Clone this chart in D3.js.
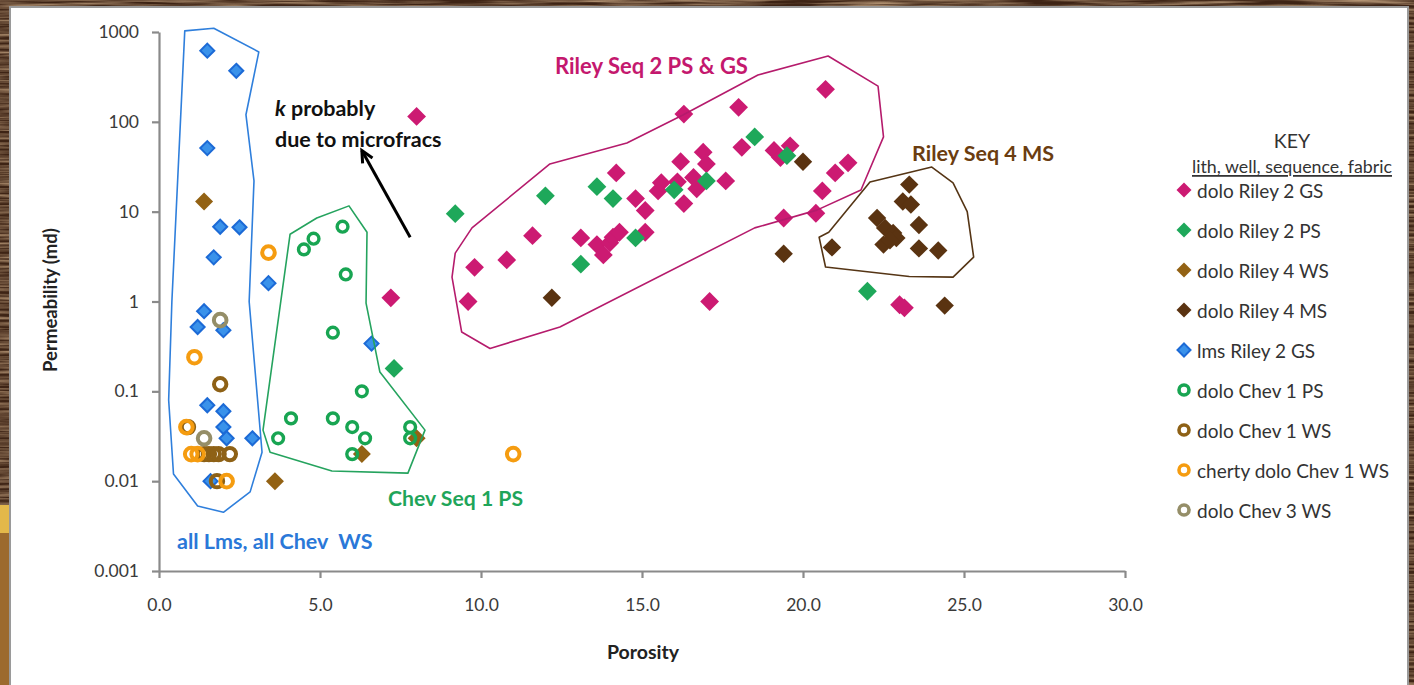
<!DOCTYPE html>
<html>
<head>
<meta charset="utf-8">
<script src="https://cdn.jsdelivr.net/npm/d3@7"></script>
<style>
  html, body { margin: 0; padding: 0; background: #4a2c1a; overflow: hidden; }
  svg { display: block; }
  text { font-family: Lato, "Open Sans", "Noto Sans", sans-serif; }
</style>
</head>
<body>
<svg id="chart" width="1414" height="685"></svg>
<script>
// ---------- samples: [porosity (%), permeability (md)] ----------
const doloRiley2GS = [
  [8.0, 115], [7.2, 1.1], [16.3, 122], [18.0, 145], [20.7, 230], [18.1, 52],
  [19.1, 48], [19.6, 54], [19.3, 40], [21.4, 35], [21.0, 27], [20.6, 17],
  [20.4, 9.6], [19.4, 8.5], [17.1, 1.0], [9.6, 1.0], [9.8, 2.4], [10.8, 2.9],
  [11.6, 5.4], [13.1, 5.1], [14.2, 27], [13.6, 4.3], [13.8, 3.3], [14.0, 4.5],
  [14.1, 5.2], [14.3, 5.9], [15.1, 5.9], [15.1, 10.3], [14.8, 14], [15.5, 17],
  [15.6, 21], [16.3, 12.3], [16.2, 36], [16.1, 21.5], [16.7, 18], [16.6, 24],
  [16.9, 46], [17.0, 34], [17.6, 22], [23.0, 0.92], [23.15, 0.85]
];
const doloRiley2PS = [
  [9.2, 9.5], [12.0, 15], [13.1, 2.6], [13.6, 19], [14.1, 14], [14.8, 5.1],
  [16.0, 17.5], [17.0, 22], [18.5, 68], [19.5, 42], [22.0, 1.3], [7.3, 0.18]
];
const doloRiley4WS = [
  [1.4, 13], [3.6, 0.01], [6.3, 0.02], [8.0, 0.03]
];
const doloRiley4MS = [
  [12.2, 1.1], [19.4, 3.4], [20.9, 4.0], [20.0, 36], [24.4, 0.9], [23.3, 20],
  [23.1, 13], [23.35, 12], [23.6, 7.1], [22.3, 8.5], [22.55, 6.6], [22.8, 5.8],
  [22.9, 5.1], [22.5, 4.3], [22.7, 4.8], [23.6, 3.9], [24.2, 3.7]
];
const lmsRiley2GS = [
  [1.5, 620], [2.4, 370], [1.5, 51], [1.9, 6.8], [2.5, 6.7], [1.7, 3.1],
  [3.4, 1.6], [1.4, 0.78], [1.2, 0.52], [2.0, 0.48], [6.6, 0.34], [1.5, 0.07],
  [2.0, 0.06], [2.0, 0.04], [2.1, 0.03], [2.9, 0.03], [1.6, 0.01]
];
const doloChev1PS = [
  [5.7, 6.8], [4.8, 5.0], [4.5, 3.8], [5.8, 2.0], [5.4, 0.45], [6.3, 0.1],
  [4.1, 0.05], [5.4, 0.05], [6.0, 0.04], [6.4, 0.03], [3.7, 0.03], [6.0, 0.02],
  [7.8, 0.04], [7.8, 0.03]
];
const doloChev1WS = [
  [1.9, 0.12], [0.9, 0.04], [1.4, 0.02], [1.55, 0.02], [1.7, 0.02], [1.85, 0.02],
  [2.2, 0.02], [1.8, 0.01]
];
const chertyDoloChev1WS = [
  [1.1, 0.24], [0.85, 0.04], [1.0, 0.02], [1.2, 0.02], [2.1, 0.01], [3.4, 3.5],
  [11.0, 0.02]
];
const doloChev3WS = [
  [1.9, 0.62], [1.4, 0.03]
];

const seriesNames = [
  "dolo Riley 2 GS", "dolo Riley 2 PS", "dolo Riley 4 WS", "dolo Riley 4 MS",
  "lms Riley 2 GS", "dolo Chev 1 PS", "dolo Chev 1 WS", "cherty dolo Chev 1 WS",
  "dolo Chev 3 WS"
];

// ---------- axis ticks ----------
const xTicks = [0, 5, 10, 15, 20, 25, 30];
const xTickLabels = ["0.0", "5.0", "10.0", "15.0", "20.0", "25.0", "30.0"];
const yTicks = [0.001, 0.01, 0.1, 1, 10, 100, 1000];
const yTickLabels = ["0.001", "0.01", "0.1", "1", "10", "100", "1000"];

// ---------- hand-drawn group outlines (porosity, permeability) ----------
const outlineLms = [
  [0.8, 1030], [1.7, 1100], [3.1, 600], [2.7, 120], [2.95, 22], [2.8, 1.0],
  [3.2, 0.021], [2.83, 0.0076], [2.0, 0.0045], [1.2, 0.0053], [0.45, 0.012],
  [0.3, 0.08], [0.4, 1.0]
];
const outlineChev1 = [
  [4.07, 5.6], [4.9, 8.5], [5.9, 11.6], [6.46, 5.9], [6.43, 0.96], [6.86, 0.164],
  [8.26, 0.037], [7.73, 0.0123], [5.37, 0.013], [3.45, 0.021], [3.23, 0.037]
];
const outlineRiley2 = [
  [20.78, 541], [22.33, 250], [22.5, 68], [21.8, 17.4], [20.43, 10.4], [18.5, 6.6],
  [12.45, 0.52], [10.28, 0.30], [9.4, 0.457], [9.1, 1.87], [9.2, 3.46], [9.72, 6.6],
  [12.14, 34], [14.53, 58], [16.27, 119], [18.6, 332]
];
const outlineRiley4 = [
  [22.08, 21.4], [24.0, 31.4], [24.66, 20.9], [25.1, 10], [25.3, 3.12], [24.66, 1.87],
  [23.3, 1.9], [20.7, 2.42], [20.5, 5.2], [20.8, 5.9]
];
const microfracArrow = [[7.8, 5.2], [6.3, 48]];

// ---------- drawing ----------
const W = 1414, H = 685;
const svg = d3.select("#chart");
const defs = svg.append("defs");

// wood-grain frame
const wood = defs.append("filter").attr("id", "grain")
  .attr("x", 0).attr("y", 0).attr("width", "100%").attr("height", "100%");
wood.append("feTurbulence").attr("type", "fractalNoise")
  .attr("baseFrequency", "0.012 0.35").attr("numOctaves", 3).attr("seed", 7);
wood.append("feColorMatrix").attr("type", "matrix")
  .attr("values", "0 0 0 0 0.62  0 0 0 0 0.42  0 0 0 0 0.25  1.6 0 0 0 -0.55");
svg.append("rect").attr("width", W).attr("height", H).attr("fill", "#3e2415");
svg.append("rect").attr("width", W).attr("height", H).attr("filter", "url(#grain)");
svg.append("rect").attr("x", 0).attr("y", 505).attr("width", 10).attr("height", 28).attr("fill", "#e3b84a");
svg.append("rect").attr("x", 0).attr("y", 533).attr("width", 10).attr("height", 152).attr("fill", "#9c6a2e");

// white slide panel
svg.append("rect").attr("x", 10).attr("y", 7).attr("width", 1398).attr("height", 690)
  .attr("fill", "#fff").attr("stroke", "#9a9a9a").attr("stroke-width", 2);

const x = d3.scaleLinear().domain([0, 30]).range([159, 1125]);
const y = d3.scaleLog().domain([0.001, 1000]).range([571, 32]);

// axes
const axisColor = "#8a8a8a";
const gx = svg.append("g").attr("transform", `translate(0,${y(0.001)})`)
  .call(d3.axisBottom(x).tickValues(xTicks).tickSize(7).tickSizeOuter(0).tickPadding(21)
    .tickFormat((d, i) => xTickLabels[i]));
const gy = svg.append("g").attr("transform", `translate(${x(0)},0)`)
  .call(d3.axisLeft(y).tickValues(yTicks).tickSize(7).tickSizeOuter(0).tickPadding(13)
    .tickFormat((d, i) => yTickLabels[i]));
[gx, gy].forEach(g => {
  g.select(".domain").attr("stroke", axisColor).attr("stroke-width", 2.2);
  g.selectAll(".tick line").attr("stroke", axisColor).attr("stroke-width", 2.2);
  g.selectAll(".tick text").attr("fill", "#3a3a3a").style("font-size", "17.5px")
    .style("font-family", "Lato, sans-serif");
});

svg.append("text").attr("x", 643).attr("y", 651).attr("text-anchor", "middle")
  .attr("dominant-baseline", "central").style("font-size", "19.5px").style("font-weight", 700)
  .attr("fill", "#222").text("Porosity");
svg.append("text").attr("transform", "translate(50,300) rotate(-90)").attr("text-anchor", "middle")
  .attr("dominant-baseline", "central").style("font-size", "18.5px").style("font-weight", 700)
  .attr("fill", "#222").text("Permeability (md)");

// marker styles per series
const diamond = r => `M0,${-r}L${r},0L0,${r}L${-r},0Z`;
const styles = [
  { kind: "diamond", r: 9.4, fill: "#cc1a72" },
  { kind: "diamond", r: 9.4, fill: "#1ea85a" },
  { kind: "diamond", r: 9, fill: "#936214" },
  { kind: "diamond", r: 9.2, fill: "#5a3311" },
  { kind: "diamond", r: 7, fill: "#3a92ea", stroke: "#1c6ad6", sw: 2 },
  { kind: "ring", r: 5.4, stroke: "#18a552", sw: 3.4 },
  { kind: "ring", r: 6.2, stroke: "#8e6116", sw: 4 },
  { kind: "ring", r: 6.3, stroke: "#f59c10", sw: 4 },
  { kind: "ring", r: 6.3, stroke: "#958e68", sw: 4 }
];
const allSeries = [doloRiley2GS, doloRiley2PS, doloRiley4WS, doloRiley4MS, lmsRiley2GS,
  doloChev1PS, doloChev1WS, chertyDoloChev1WS, doloChev3WS];

function drawMarker(sel, st) {
  if (st.kind === "diamond") {
    sel.append("path").attr("d", diamond(st.r)).attr("fill", st.fill)
      .attr("stroke", st.stroke || "none").attr("stroke-width", st.sw || 0);
  } else {
    sel.append("circle").attr("r", st.r).attr("fill", "none")
      .attr("stroke", st.stroke).attr("stroke-width", st.sw);
  }
}

const plot = svg.append("g");
allSeries.forEach((data, i) => {
  const g = plot.append("g").attr("class", "series");
  g.selectAll("g").data(data).join("g")
    .attr("transform", d => `translate(${x(d[0])},${y(d[1])})`)
    .each(function () { drawMarker(d3.select(this), styles[i]); });
});

// group outlines
const outline = d3.line().x(d => x(d[0])).y(d => y(d[1])).curve(d3.curveLinearClosed);
[[outlineLms, "#2f7fdc"], [outlineChev1, "#25a35e"], [outlineRiley2, "#b51b6c"], [outlineRiley4, "#553515"]]
  .forEach(([pts, col]) => {
    svg.append("path").attr("d", outline(pts)).attr("fill", "none")
      .attr("stroke", col).attr("stroke-width", 1.6).attr("stroke-linejoin", "round");
  });

// arrow pointing at the high-permeability outlier
const [a0, a1] = microfracArrow;
const ax0 = x(a0[0]), ay0 = y(a0[1]), ax1 = x(a1[0]), ay1 = y(a1[1]);
const ang = Math.atan2(ay0 - ay1, ax0 - ax1);
const head = 13, spread = 0.45;
svg.append("line").attr("x1", ax0).attr("y1", ay0).attr("x2", ax1).attr("y2", ay1)
  .attr("stroke", "#000").attr("stroke-width", 3);
svg.append("path")
  .attr("d", `M${ax1 + head * Math.cos(ang + spread)},${ay1 + head * Math.sin(ang + spread)}L${ax1},${ay1}L${ax1 + head * Math.cos(ang - spread)},${ay1 + head * Math.sin(ang - spread)}`)
  .attr("fill", "none").attr("stroke", "#000").attr("stroke-width", 3).attr("stroke-linejoin", "miter");

// annotations
function note(px, py, txt, col, size) {
  return svg.append("text").attr("x", px).attr("y", py).attr("dominant-baseline", "central")
    .style("font-size", size + "px").style("font-weight", 700).attr("fill", col).text(txt);
}
const kLine = svg.append("text").attr("x", 275).attr("y", 108).attr("dominant-baseline", "central")
  .style("font-size", "21.5px").style("font-weight", 700).attr("fill", "#111");
kLine.append("tspan").style("font-style", "italic").text("k");
kLine.append("tspan").text(" probably");
note(275, 139, "due to microfracs", "#111", 21.5);
note(555, 65, "Riley Seq 2 PS & GS", "#c4186e", 22);
note(912, 153, "Riley Seq 4 MS", "#6b3d10", 21.5);
note(388, 498, "Chev Seq 1 PS", "#1fa55a", 21.2);
note(177, 541, "all Lms, all Chev  WS", "#2a78d8", 21.5).attr("xml:space", "preserve");

// key
svg.append("text").attr("x", 1292).attr("y", 140).attr("text-anchor", "middle")
  .attr("dominant-baseline", "central").style("font-size", "19.5px").attr("fill", "#333").text("KEY");
svg.append("text").attr("x", 1292).attr("y", 166).attr("text-anchor", "middle")
  .attr("dominant-baseline", "central").style("font-size", "17.8px").attr("fill", "#333")
  .style("text-decoration", "underline").text("lith, well, sequence, fabric");

const legendStyles = styles.map(s => s.kind === "diamond"
  ? Object.assign({}, s, { r: s.stroke ? 6.5 : 7.5 })
  : Object.assign({}, s, { r: 5, sw: 3.6 }));
const key = svg.append("g");
seriesNames.forEach((name, i) => {
  const row = key.append("g").attr("transform", `translate(1184,${190 + i * 40})`);
  drawMarker(row, legendStyles[i]);
  row.append("text").attr("x", 13).attr("dominant-baseline", "central")
    .style("font-size", "19px").attr("fill", "#333").text(name);
});
</script>
</body>
</html>
